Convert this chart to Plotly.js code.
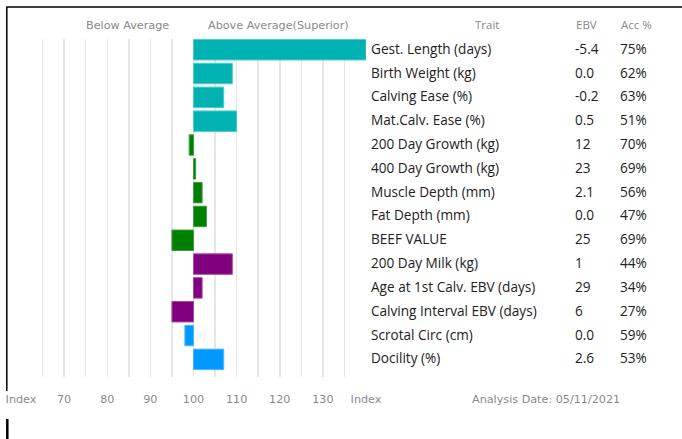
<!DOCTYPE html>
<html>
<head>
<meta charset="utf-8">
<script src="https://cdn.plot.ly/plotly-3.0.1.min.js"></script>
<style>
html,body{margin:0;padding:0;background:#fff;}
#chart{width:682px;height:439px;}
</style>
</head>
<body>
<div id="chart"></div>
<script>
// ---- data ----
const traits = ["Gest. Length (days)", "Birth Weight (kg)", "Calving Ease (%)", "Mat.Calv. Ease (%)",
  "200 Day Growth (kg)", "400 Day Growth (kg)", "Muscle Depth (mm)", "Fat Depth (mm)", "BEEF VALUE",
  "200 Day Milk (kg)", "Age at 1st Calv. EBV (days)", "Calving Interval EBV (days)",
  "Scrotal Circ (cm)", "Docility (%)"];
const indexValues = [140, 109, 107, 110, 99, 100.5, 102, 103, 95, 109, 102, 95, 98, 107];
const ebv = ["-5.4", "0.0", "-0.2", "0.5", "12", "23", "2.1", "0.0", "25", "1", "29", "6", "0.0", "2.6"];
const acc = ["75%", "62%", "63%", "51%", "70%", "69%", "56%", "47%", "69%", "44%", "34%", "27%", "59%", "53%"];
const groups = [0, 0, 0, 0, 1, 1, 1, 1, 1, 2, 2, 2, 3, 3];
const tickVals = [60, 70, 80, 90, 100, 110, 120, 130, 140];
const tickText = ["Index", "70", "80", "90", "100", "110", "120", "130", "Index"];
const baseIndex = 100;
const analysisDate = "Analysis Date: 05/11/2021";

// ---- styles ----
const fillColors = ["#00b2b2", "#008000", "#800080", "#0099ff"];
const lineColors = ["#4ccccc", "#3f9f3f", "#a64ca6", "#4cb8ff"];
const W = 682, H = 439;
const L = 20.7, R = 365.7, T = 39, B = 377;
const px = x => (x - L) / (R - L);
const py = y => (B - y) / (B - T);
const grey = "#8a8a8a";
const textFont = {family: "Open Sans, sans-serif", size: 13.6, color: "#222"};
const headFont = {family: "Open Sans, sans-serif", size: 11.5, color: grey};
const vFont = {family: "DejaVu Sans, Verdana, sans-serif", size: 11.2, color: grey};
const pad = 3;

const trace = {
  type: "bar",
  orientation: "h",
  y: traits,
  x: indexValues.map(v => v - baseIndex),
  base: baseIndex,
  width: 0.86,
  marker: {
    color: groups.map(g => fillColors[g]),
    line: {color: groups.map(g => lineColors[g]), width: 1}
  },
  hoverinfo: "skip"
};

const annotations = [];
traits.forEach((t, i) => {
  annotations.push({xref: "paper", yref: "y", x: px(372 - pad), y: t, yshift: 1.5, text: t, showarrow: false,
    xanchor: "left", yanchor: "middle", font: textFont});
  annotations.push({xref: "paper", yref: "y", x: px(576 - pad), y: t, yshift: 1.5, text: ebv[i], showarrow: false,
    xanchor: "left", yanchor: "middle", font: textFont});
  annotations.push({xref: "paper", yref: "y", x: px(621 - pad), y: t, yshift: 1.5, text: acc[i], showarrow: false,
    xanchor: "left", yanchor: "middle", font: textFont});
});
annotations.push({xref: "paper", yref: "paper", x: px(486.5), y: py(24), text: "Trait", showarrow: false,
  xanchor: "center", yanchor: "middle", font: headFont});
annotations.push({xref: "paper", yref: "paper", x: px(577 - pad), y: py(24), text: "EBV", showarrow: false,
  xanchor: "left", yanchor: "middle", font: headFont});
annotations.push({xref: "paper", yref: "paper", x: px(621.5 - pad), y: py(24), text: "Acc %", showarrow: false,
  xanchor: "left", yanchor: "middle", font: headFont});
annotations.push({xref: "paper", yref: "paper", x: px(127), y: py(25), text: "Below Average", showarrow: false,
  xanchor: "center", yanchor: "middle", font: vFont});
annotations.push({xref: "paper", yref: "paper", x: px(278), y: py(25), text: "Above Average(Superior)", showarrow: false,
  xanchor: "center", yanchor: "middle", font: vFont});
annotations.push({xref: "paper", yref: "paper", x: px(473 - pad), y: py(399), text: analysisDate, showarrow: false,
  xanchor: "left", yanchor: "middle", font: vFont});

const shapes = [
  {type: "line", xref: "paper", yref: "paper", x0: px(6), x1: px(682), y0: py(7), y1: py(7),
    line: {color: "#000", width: 1.5}},
  {type: "line", xref: "paper", yref: "paper", x0: px(6.5), x1: px(6.5), y0: py(7), y1: py(391),
    line: {color: "#000", width: 1.5}},
  {type: "line", xref: "paper", yref: "paper", x0: px(7), x1: px(7), y0: py(419), y1: py(439),
    line: {color: "#000", width: 2.5}}
];

const layout = {
  width: W, height: H,
  margin: {l: L, r: W - R, t: T, b: H - B, pad: 0},
  paper_bgcolor: "#fff", plot_bgcolor: "#fff",
  showlegend: false,
  xaxis: {
    range: [60, 140], tickvals: tickVals, ticktext: tickText,
    showgrid: true, gridcolor: "#e6e6e6", gridwidth: 1.5, zeroline: false, showline: false,
    ticks: "outside", ticklen: 12, tickcolor: "rgba(0,0,0,0)",
    tickfont: vFont,
    minor: {dtick: 5, tick0: 60, showgrid: true, gridcolor: "#e6e6e6", gridwidth: 1.5, ticks: ""},
    fixedrange: true
  },
  yaxis: {
    type: "category", range: [13.74, -0.45], autorange: false,
    showticklabels: false, showgrid: false, zeroline: false, showline: false, ticks: "",
    fixedrange: true
  },
  bargap: 0,
  annotations: annotations,
  shapes: shapes
};

Plotly.newPlot("chart", [trace], layout, {displayModeBar: false, staticPlot: true});
</script>
</body>
</html>
